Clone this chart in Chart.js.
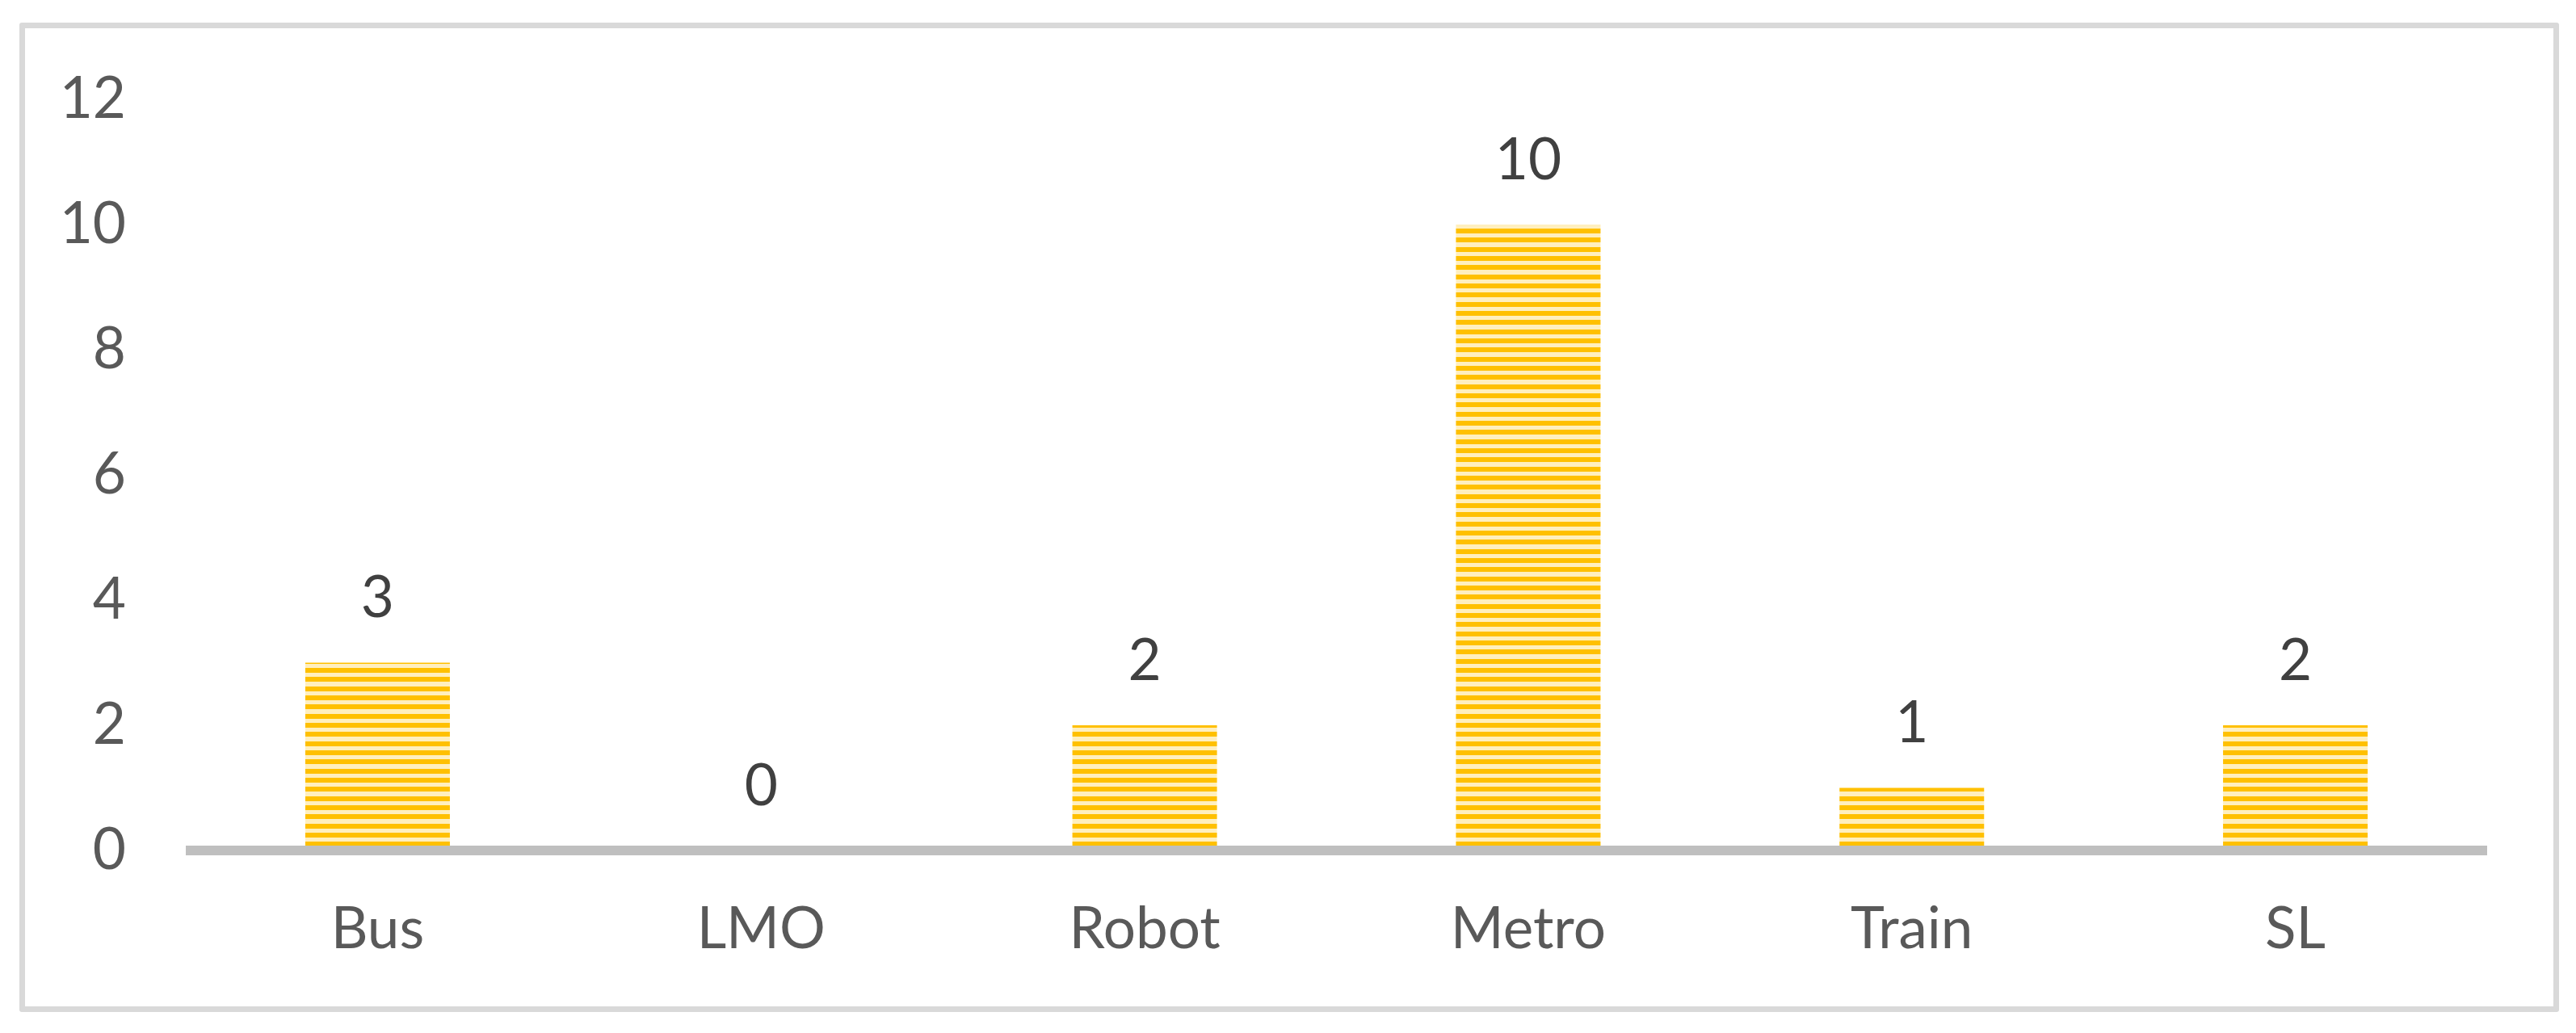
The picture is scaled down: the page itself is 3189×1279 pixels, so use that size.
<!DOCTYPE html>
<html>
<head>
<meta charset="utf-8">
<script src="https://cdn.jsdelivr.net/npm/chart.js@4.4.1/dist/chart.umd.min.js"></script>
<style>
  html, body { margin: 0; padding: 0; background: #fff; }
  #wrap { position: relative; width: 3189px; height: 1279px; }
  #frame { position: absolute; left: 24px; top: 28px; width: 3144px; height: 1225px;
           box-sizing: border-box; border: 7px solid #d9d9d9; border-radius: 3px; }
  canvas { position: absolute; left: 0; top: 0; }
</style>
</head>
<body>
<div id="wrap">
  <div id="frame"></div>
  <canvas id="barChart"></canvas>
</div>
<script>
// data
const categories = ['Bus', 'LMO', 'Robot', 'Metro', 'Train', 'SL'];
const counts = [3, 0, 2, 10, 1, 2];
const yTicks = [0, 2, 4, 6, 8, 10, 12];

const FONT = 'Lato, "Open Sans", sans-serif';

// striped yellow fill like the original
function stripePattern() {
    const c = document.createElement('canvas');
    c.width = 8; c.height = 34;
    const g = c.getContext('2d');
    g.fillStyle = '#ffefbe';
    g.fillRect(0, 0, 8, 34);
    g.fillStyle = '#ffc000';
    [0, 11, 22].forEach(y => g.fillRect(0, y, 8, 6));
    return g.createPattern(c, 'repeat');
}

// value labels above bars
const valueLabels = {
    id: 'valueLabels',
    afterDatasetsDraw(chart) {
        const ctx = chart.ctx;
        const meta = chart.getDatasetMeta(0);
        ctx.save();
        ctx.font = '71px ' + FONT;
        ctx.fillStyle = '#404040';
        ctx.textAlign = 'center';
        ctx.textBaseline = 'middle';
        meta.data.forEach((bar, i) => {
            ctx.fillText(String(counts[i]), bar.x, bar.y - 79);
        });
        ctx.restore();
    }
};

// y tick labels, right aligned against the plot
const yLabels = {
    id: 'yLabels',
    afterDraw(chart) {
        const { ctx, chartArea, scales } = chart;
        ctx.save();
        ctx.font = '71px ' + FONT;
        ctx.fillStyle = '#595959';
        ctx.textAlign = 'right';
        ctx.textBaseline = 'middle';
        scales.y.ticks.forEach(t => {
            ctx.fillText(String(t.value), chartArea.left - 74, scales.y.getPixelForValue(t.value));
        });
        ctx.restore();
    }
};

// thick grey zero line drawn over the bar bottoms
const zeroLine = {
    id: 'zeroLine',
    afterDatasetsDraw(chart) {
        const { ctx, chartArea, scales } = chart;
        const y0 = scales.y.getPixelForValue(0);
        ctx.save();
        ctx.fillStyle = '#bfbfbf';
        ctx.fillRect(chartArea.left, y0 - 6, chartArea.right - chartArea.left, 12);
        ctx.restore();
    }
};

const canvas = document.getElementById('barChart');
canvas.width = 3189; canvas.height = 1279;
canvas.style.width = '3189px'; canvas.style.height = '1279px';

new Chart(canvas.getContext('2d'), {
    type: 'bar',
    data: {
        labels: categories,
        datasets: [{
            data: counts,
            backgroundColor: stripePattern(),
            borderWidth: 0,
            barPercentage: 0.377,
            categoryPercentage: 1
        }]
    },
    options: {
        responsive: false,
        animation: false,
        events: [],
        layout: { padding: { left: 0, right: 110, top: 123, bottom: 0 } },
        plugins: { legend: { display: false }, tooltip: { enabled: false } },
        scales: {
            x: {
                grid: { display: false, drawTicks: false },
                border: { display: false },
                ticks: { color: '#595959', font: { family: FONT, size: 71 }, padding: 56 },
                afterFit(s) { s.height = 226; }
            },
            y: {
                min: 0, max: 12,
                grid: { display: false, drawTicks: false },
                border: { display: false },
                afterBuildTicks(s) { s.ticks = yTicks.map(v => ({ value: v })); },
                ticks: { display: false },
                afterFit(s) { s.width = 230; }
            }
        }
    },
    plugins: [valueLabels, zeroLine, yLabels]
});
</script>
</body>
</html>
